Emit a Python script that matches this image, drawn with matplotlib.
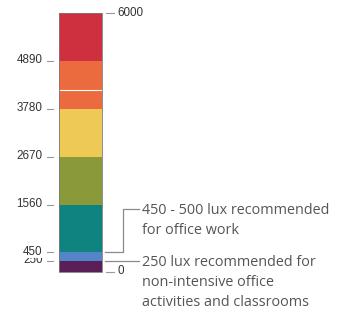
import matplotlib
matplotlib.use('Agg')
import matplotlib.pyplot as plt
import matplotlib.transforms as mtransforms
from matplotlib.patches import Rectangle

# lux bands, bottom to top
band_bottoms = [0, 250, 450, 1560, 2670, 3780, 4890]
band_tops = [250, 450, 1560, 2670, 3780, 4890, 6000]
band_colors = ['#5b1f57', '#5585c8', '#0e837f', '#8a9a3b', '#efc955', '#ec6b3e', '#cf3040']
left_ticks = [4890, 3780, 2670, 1560, 250, 450]
right_ticks = [6000, 0]
divider_value = 4220
note_office = ['450 - 500 lux recommended', 'for office work']
note_classroom = ['250 lux recommended for', 'non-intensive office', 'activities and classrooms']
note_office_value = 450
note_classroom_value = 250

W, H = 343, 313
fig = plt.figure(figsize=(W / 100, H / 100), dpi=100)
ax = fig.add_axes([59 / W, (H - 271.7) / H, 43 / W, 258.4 / H])
ax.set_xlim(0, 1)
ax.set_ylim(0, 6000)
ax.axis('off')

for b, t, c in zip(band_bottoms, band_tops, band_colors):
    ax.bar(0.5, t - b, bottom=b, width=1, color=c, linewidth=0)
ax.axhline(divider_value, color='white', lw=0.8)
ax.add_patch(Rectangle((0, 0), 1, 1, transform=ax.transAxes, fill=False,
                       ec='#7a7a7a', lw=0.6, clip_on=False, zorder=5))

tr = mtransforms.blended_transform_factory(ax.transAxes, ax.transData)
tick_kw = dict(color='#9a9a9a', lw=0.8, transform=tr, clip_on=False)
label_kw = dict(fontsize=8.4, color='#333333', family='Liberation Sans',
                va='center', transform=tr)

for v in left_ticks:
    ax.plot([-0.285, -0.15], [v, v], **tick_kw)
    ax.text(-0.38, v + 15, str(v), ha='right',
            bbox=dict(fc='white', ec='none', pad=0.2), **label_kw)

for v in right_ticks:
    ax.plot([1.09, 1.28], [v, v], **tick_kw)
    ax.text(1.35, v + 15, str(v), ha='left', **label_kw)

# callouts
line_kw = dict(color='#8a8a8a', lw=0.9, transform=tr, clip_on=False)
note_kw = dict(fontsize=10.4, color='#555555', family='Open Sans',
               ha='left', va='baseline')
elbow_x = 1.486
elbow_top = 1456
note_x = 1.92
ax.plot([1.07, elbow_x, elbow_x, 1.86],
        [note_office_value, note_office_value, elbow_top, elbow_top], **line_kw)
ax.plot([1.07, 1.86], [note_classroom_value, note_classroom_value], **line_kw)

for y0, lines in [(elbow_top, note_office), (note_classroom_value, note_classroom)]:
    for i, line in enumerate(lines):
        off = mtransforms.offset_copy(tr, fig=fig, x=0, y=-5.2 - 20 * i, units='dots')
        ax.text(note_x, y0, line, transform=off, **note_kw)

fig.savefig('out.png', dpi=100)
